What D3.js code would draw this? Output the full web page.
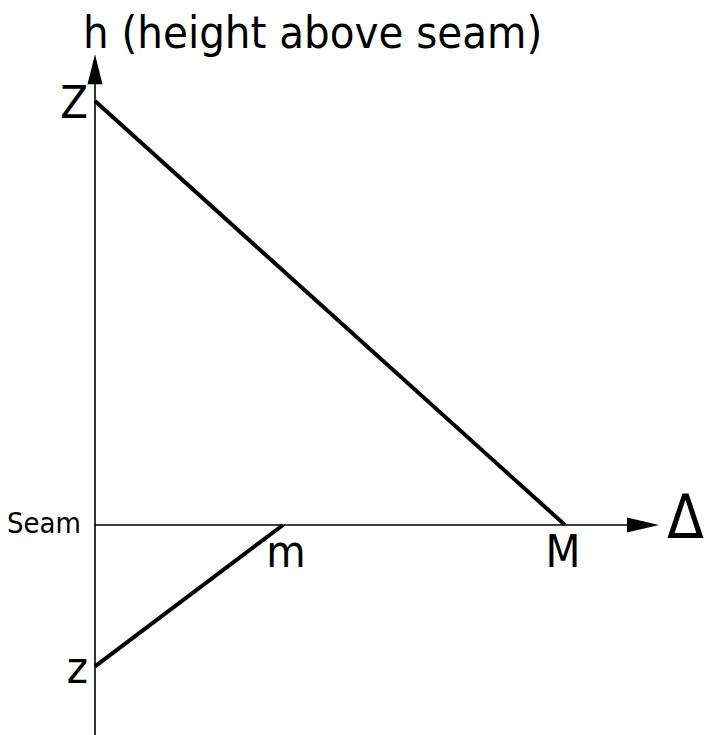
<!DOCTYPE html>
<html>
<head>
<meta charset="utf-8">
<script src="https://cdn.jsdelivr.net/npm/d3@7"></script>
<style>
  body { margin: 0; background: #fff; }
  text { font-family: "DejaVu Sans Condensed", "DejaVu Sans", sans-serif; fill: #000; }
</style>
</head>
<body>
<div id="chart"></div>
<script>
var width = 705;
var height = 735;

// points on the diagram (delta, height above seam)
var labels  = ["Z", "M", "z", "m"];
var deltas  = [0, 1, 0, 0.4];
var heights = [3, 0, -1, 0];
// segments join point pairs
var segments = [[0, 1], [2, 3]];

var yTitle = "h (height above seam)";
var xTitle = "\u0394";
var seamLabel = "Seam";

var svg = d3.select("#chart")
  .append("svg")
  .attr("width", width)
  .attr("height", height);

var x = d3.scaleLinear().domain([0, 1]).range([95, 565]);
var y = d3.scaleLinear().domain([0, 3]).range([525, 101]);

var xMax = 1.2, yMax = 3.33, yMin = -1.5;

// axes
svg.append("line")
  .attr("x1", x(0)).attr("x2", x(xMax) - 10)
  .attr("y1", y(0)).attr("y2", y(0))
  .attr("stroke", "#000").attr("stroke-width", 1.6);

svg.append("line")
  .attr("x1", x(0)).attr("x2", x(0))
  .attr("y1", y(yMin)).attr("y2", y(yMax) + 10)
  .attr("stroke", "#000").attr("stroke-width", 1.6);

// arrow heads
var ax = x(xMax), ay = y(0);
svg.append("path")
  .attr("d", "M" + ax + "," + ay + "L" + (ax - 32) + "," + (ay - 7.5) + "L" + (ax - 32) + "," + (ay + 7.5) + "Z")
  .attr("fill", "#000");

var vx = x(0), vy = y(yMax);
svg.append("path")
  .attr("d", "M" + vx + "," + vy + "L" + (vx - 7.5) + "," + (vy + 30) + "L" + (vx + 7.5) + "," + (vy + 30) + "Z")
  .attr("fill", "#000");

// segments
svg.selectAll("line.seg")
  .data(segments).enter()
  .append("line")
  .attr("class", "seg")
  .attr("x1", function(d) { return x(deltas[d[0]]); })
  .attr("y1", function(d) { return y(heights[d[0]]); })
  .attr("x2", function(d) { return x(deltas[d[1]]); })
  .attr("y2", function(d) { return y(heights[d[1]]); })
  .attr("stroke", "#000")
  .attr("stroke-width", 4);

// point labels: on the h axis to the left, on the seam below
svg.selectAll("text.pt")
  .data(labels).enter()
  .append("text")
  .attr("class", "pt")
  .attr("font-size", 45)
  .attr("x", function(d, i) {
    if (deltas[i] === 0) return x(0) - 7;
    return x(deltas[i]) + (deltas[i] < 1 ? 3 : -2);
  })
  .attr("y", function(d, i) { return heights[i] === 0 ? y(0) + 42 : y(heights[i]) + 17; })
  .attr("text-anchor", function(d, i) { return deltas[i] === 0 ? "end" : "middle"; })
  .text(function(d) { return d; });

// titles
svg.append("text")
  .attr("x", 83).attr("y", 48)
  .attr("font-size", 45)
  .text(yTitle);

svg.append("text")
  .attr("x", x(xMax) + 8).attr("y", y(0) + 13)
  .attr("font-size", 60)
  .text(xTitle);

svg.append("text")
  .attr("x", x(0) - 14).attr("y", y(0) + 8)
  .attr("font-size", 29)
  .attr("text-anchor", "end")
  .text(seamLabel);
</script>
</body>
</html>
